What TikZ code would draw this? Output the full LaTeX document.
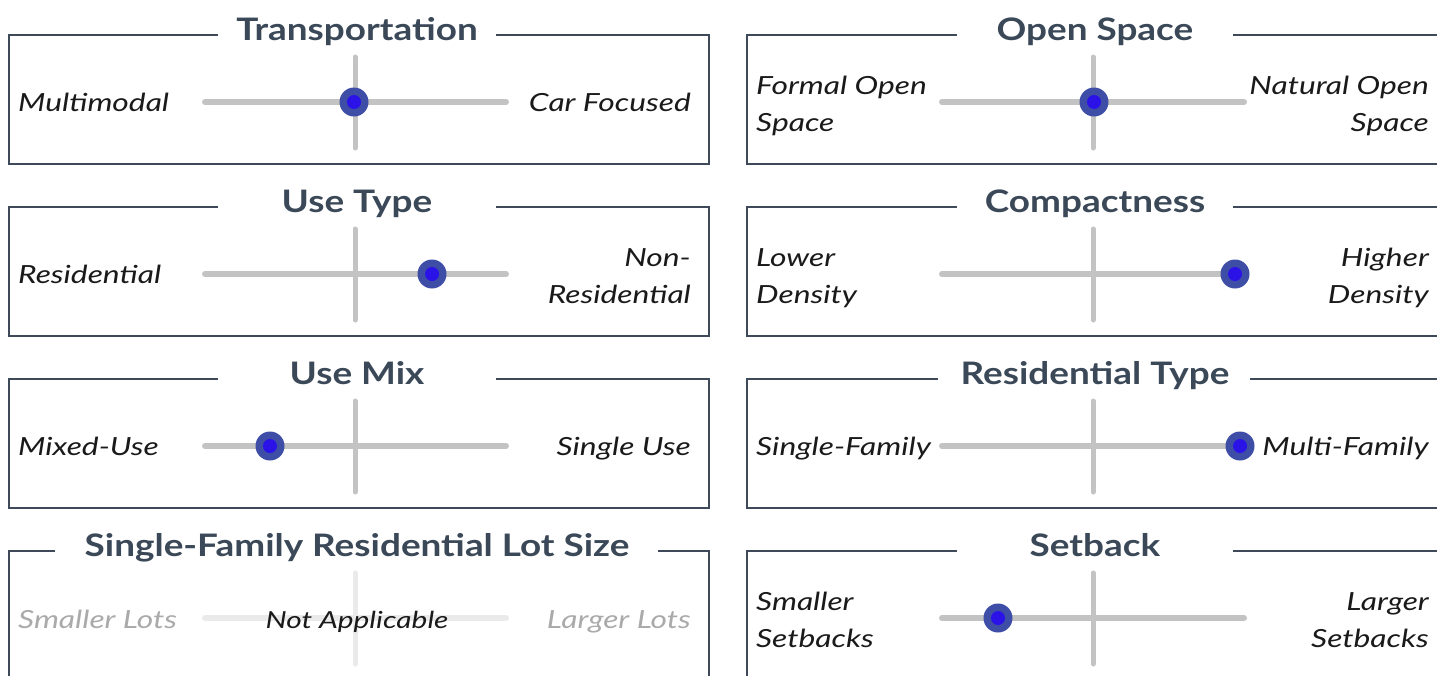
\documentclass[tikz,border=0pt]{standalone}
\usepackage{fontspec}
\setmainfont{Lato}[ItalicFeatures={FakeStretch=1.27}, BoldFeatures={FakeStretch=1.19}]
\definecolor{frameC}{RGB}{62,74,89}
\definecolor{titleC}{RGB}{58,72,88}
\definecolor{labelC}{RGB}{26,26,26}
\definecolor{trackC}{RGB}{195,195,195}
\definecolor{knobC}{RGB}{62,78,166}
\definecolor{knobInC}{RGB}{43,18,230}
\definecolor{offTrackC}{RGB}{234,234,234}
\definecolor{offTextC}{RGB}{170,170,170}
\tikzset{
  frame/.style={draw=frameC, line width=2.5pt},
  ttl/.style={font=\fontsize{31}{31}\selectfont\bfseries, text=titleC, inner sep=0pt, anchor=base},
  lbl/.style={font=\fontsize{25}{37}\selectfont\itshape, text=labelC, inner sep=0pt},
  track/.style={draw=trackC, line width=6pt, line cap=round},
  vtrack/.style={draw=trackC, line width=5pt, line cap=round},
  offtrack/.style={draw=offTrackC, line width=6pt, line cap=round},
  vofftrack/.style={draw=offTrackC, line width=5pt, line cap=round},
  knob/.style={circle, fill=knobC, minimum size=29pt, inner sep=0pt},
  knobin/.style={circle, fill=knobInC, minimum size=14pt, inner sep=0pt},
}
% #1 name, #2 x left, #3 x right, #4 top, #5 gap left, #6 gap right, #7 title x, #8 title
\newcommand\mypanel[8]{%
  \draw[frame] (#5,#4) -- (#2,#4) -- (#2,{#4+129}) -- (#3,{#4+129}) -- (#3,#4) -- (#6,#4);
  \node[ttl] (#1t) at (#7,{#4+5}) {#8};
}
% #1 name, #2 x left end, #3 x right end, #4 x vertical, #5 top, #6 track style
\newcommand\myslider[6]{%
  \coordinate (#1a) at (#2,{#5+67});
  \coordinate (#1b) at (#3,{#5+67});
  \coordinate (#1c) at (#4,{#5+22});
  \coordinate (#1d) at (#4,{#5+113});
  \draw[#6] (#1a) -- (#1b);
  \draw[v#6] (#1c) -- (#1d);
}
\newcommand\myknob[3]{%
  \node[knob] (#1k) at (#2,{#3+67}) {};
  \node[knobin] (#1ki) at (#1k.center) {};
}
\begin{document}
\begin{tikzpicture}[x=1pt,y=-1pt]
\useasboundingbox (0,0) rectangle (1437,675);
\clip (0,0) rectangle (1437,675);
\fill[white] (0,0) rectangle (1437,675);

% ---------- Row 1
\mypanel{p1}{9}{709}{35}{218}{496}{357}{Transportation}
\myslider{s1}{205}{506}{355}{35}{track}
\myknob{s1}{354}{35}
\node[lbl, anchor=base west] (p1l) at (18,111) {Multimodal};
\node[lbl, anchor=base east] (p1r) at (691,111) {Car Focused};

\mypanel{q1}{747}{1450}{35}{957}{1233}{1095}{Open Space}
\myslider{r1}{942}{1244}{1093}{35}{track}
\myknob{r1}{1094}{35}
\node[lbl, anchor=north west, align=left] (q1l) at (756,76) {Formal Open\\Space};
\node[lbl, anchor=north east, align=right] (q1r) at (1429,76) {Natural Open\\Space};

% ---------- Row 2
\mypanel{p2}{9}{709}{207}{218}{496}{357}{Use Type}
\myslider{s2}{205}{506}{355}{207}{track}
\myknob{s2}{432}{207}
\node[lbl, anchor=base west] (p2l) at (18,283) {Residential};
\node[lbl, anchor=north east, align=right] (p2r) at (691,248) {Non-\\Residential};

\mypanel{q2}{747}{1450}{207}{957}{1233}{1095}{Compactness}
\myslider{r2}{942}{1244}{1093}{207}{track}
\myknob{r2}{1235}{207}
\node[lbl, anchor=north west, align=left] (q2l) at (756,248) {Lower\\Density};
\node[lbl, anchor=north east, align=right] (q2r) at (1429,248) {Higher\\Density};

% ---------- Row 3
\mypanel{p3}{9}{709}{379}{218}{496}{357}{Use Mix}
\myslider{s3}{205}{506}{355}{379}{track}
\myknob{s3}{270}{379}
\node[lbl, anchor=base west] (p3l) at (18,455) {Mixed-Use};
\node[lbl, anchor=base east] (p3r) at (691,455) {Single Use};

\mypanel{q3}{747}{1450}{379}{938}{1250}{1095}{Residential Type}
\myslider{r3}{942}{1244}{1093}{379}{track}
\myknob{r3}{1240}{379}
\node[lbl, anchor=base west] (q3l) at (756,455) {Single-Family};
\node[lbl, anchor=base east] (q3r) at (1429,455) {Multi-Family};

% ---------- Row 4
\mypanel{p4}{9}{709}{551}{55}{658}{357}{Single-Family Residential Lot Size}
\myslider{s4}{205}{506}{355}{551}{offtrack}
\node[lbl, text=offTextC, anchor=base west] (p4l) at (18,628) {Smaller Lots};
\node[lbl, text=offTextC, anchor=base east] (p4r) at (691,628) {Larger Lots};
\node[lbl, font=\fontsize{23.5}{23.5}\selectfont\itshape, anchor=base] (p4n) at (357,628) {Not Applicable};

\mypanel{q4}{747}{1450}{551}{957}{1233}{1095}{Setback}
\myslider{r4}{942}{1244}{1093}{551}{track}
\myknob{r4}{998}{551}
\node[lbl, anchor=north west, align=left] (q4l) at (756,592) {Smaller\\Setbacks};
\node[lbl, anchor=north east, align=right] (q4r) at (1429,592) {Larger\\Setbacks};
\end{tikzpicture}
\end{document}
